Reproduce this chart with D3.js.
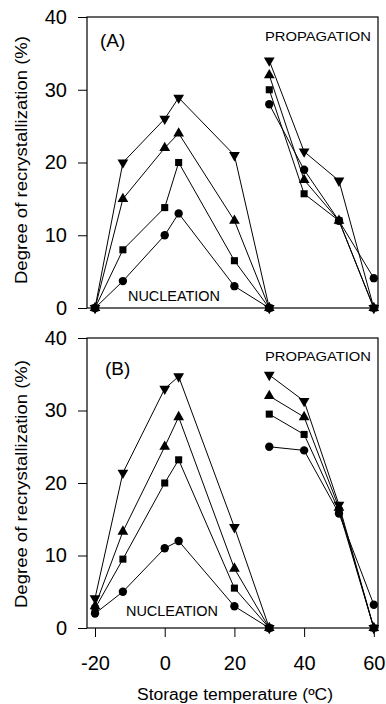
<!DOCTYPE html>
<html>
<head>
<meta charset="utf-8">
<script src="https://cdn.jsdelivr.net/npm/d3@7"></script>
<style>
  body { margin: 0; background: #fff; }
  text { font-family: "Liberation Sans", Arial, sans-serif; fill: #000; }
</style>
</head>
<body>
<script>
// storage temperatures (x values)
const tempNucleation = [-20, -12, 0, 4, 20, 30];
const tempPropagation = [30, 40, 50, 60];
const xTicks = [-20, 0, 20, 40, 60];
const yTicks = [0, 10, 20, 30, 40];
const markerShapes = ["circle", "square", "triangleUp", "triangleDown"];

// panel A - nucleation branch
const nucA_circle = [0, 3.7, 10, 13, 3, 0];
const nucA_square = [0, 8, 13.8, 20, 6.5, 0];
const nucA_up = [0, 15, 22, 24, 12, 0];
const nucA_down = [0, 20, 26, 28.9, 21, 0];
// panel A - propagation branch
const propA_circle = [28, 19, 12, 4.1];
const propA_square = [30, 15.7, 12, 0];
const propA_up = [32, 17.6, 12, 0];
const propA_down = [34, 21.5, 17.5, 0];

// panel B - nucleation branch
const nucB_circle = [2, 5, 11, 12, 3, 0];
const nucB_square = [2.7, 9.5, 20, 23.2, 5.5, 0];
const nucB_up = [3, 13.3, 25, 29.1, 8.2, 0];
const nucB_down = [4.1, 21.4, 33, 34.7, 13.9, 0];
// panel B - propagation branch
const propB_circle = [25, 24.5, 15.8, 3.2];
const propB_square = [29.5, 26.7, 16.2, 0];
const propB_up = [32, 29.1, 16.6, 0];
const propB_down = [34.9, 31.3, 17, 0];

let svg = null;
let x = null;
const left = 87, right = 378;

appendSvg("body");
setupXScale();

drawPanel({
  top: 17, bottom: 308, label: "(A)", labelX: 100, labelY: 47,
  propY: 41, nucX: 128, nucY: 301, titleY: 160, showX: false,
  nuc: [nucA_circle, nucA_square, nucA_up, nucA_down],
  prop: [propA_circle, propA_square, propA_up, propA_down]
});
drawPanel({
  top: 338, bottom: 628, label: "(B)", labelX: 105, labelY: 375,
  propY: 361, nucX: 126, nucY: 616, titleY: 484, showX: true,
  nuc: [nucB_circle, nucB_square, nucB_up, nucB_down],
  prop: [propB_circle, propB_square, propB_up, propB_down]
});

svg.append("text")
  .attr("x", 235)
  .attr("y", 700)
  .attr("text-anchor", "middle")
  .attr("font-size", "16px")
  .attr("textLength", 196)
  .attr("lengthAdjust", "spacingAndGlyphs")
  .text("Storage temperature (ºC)");

function appendSvg(domElement) {
  svg = d3.select(domElement).append("svg")
    .attr("width", 386)
    .attr("height", 704);
}

function setupXScale() {
  // frame runs a little past -20 and 60
  x = d3.scaleLinear()
    .domain([-22.3, 61.2])
    .range([left, right]);
}

function symbolFor(shape) {
  if (shape === "circle") return d3.symbol().type(d3.symbolCircle).size(55)();
  if (shape === "square") return d3.symbol().type(d3.symbolSquare).size(50)();
  return d3.symbol().type(d3.symbolTriangle).size(50)();
}

function drawPanel(p) {
  const y = d3.scaleLinear().domain([0, 40]).range([p.bottom, p.top]);
  const g = svg.append("g");

  // y axis
  const yAxis = g.append("g")
    .attr("transform", `translate(${left},0)`)
    .call(d3.axisLeft(y).tickValues(yTicks).tickSize(9).tickSizeOuter(0).tickPadding(11)
      .tickFormat(d => String(d)));
  yAxis.select(".domain").remove();
  yAxis.selectAll("text").attr("font-size", "20px").attr("font-family", null);

  // x axis ticks (only bottom panel has labels)
  const xAxis = g.append("g")
    .attr("transform", `translate(0,${p.bottom})`)
    .call(d3.axisBottom(x).tickValues(xTicks).tickSize(p.showX ? 9 : 0).tickSizeOuter(0).tickPadding(19)
      .tickFormat(d => String(d)));
  xAxis.select(".domain").remove();
  if (p.showX) {
    xAxis.selectAll("text").attr("font-size", "20px").attr("font-family", null);
  } else {
    xAxis.selectAll("text").remove();
  }

  // frame
  g.append("rect")
    .attr("x", left)
    .attr("y", p.top)
    .attr("width", right - left)
    .attr("height", p.bottom - p.top)
    .attr("fill", "none")
    .attr("stroke", "#000")
    .attr("stroke-width", 1.2);

  const line = d3.line().x(d => x(d[0])).y(d => y(d[1]));

  markerShapes.forEach((shape, i) => {
    const nucPts = tempNucleation.map((t, j) => [t, p.nuc[i][j]]);
    const propPts = tempPropagation.map((t, j) => [t, p.prop[i][j]]);
    [nucPts, propPts].forEach(pts => {
      g.append("path")
        .datum(pts)
        .attr("d", line)
        .attr("fill", "none")
        .attr("stroke", "#000")
        .attr("stroke-width", 1);
      g.selectAll(null)
        .data(pts)
        .enter()
        .append("path")
        .attr("d", symbolFor(shape))
        .attr("transform", d => `translate(${x(d[0])},${y(d[1])})` + (shape === "triangleDown" ? " rotate(180)" : ""))
        .attr("fill", "#000");
    });
  });

  // annotations
  g.append("text")
    .attr("x", p.labelX)
    .attr("y", p.labelY)
    .attr("font-size", "19px")
    .text(p.label);
  g.append("text")
    .attr("x", 265)
    .attr("y", p.propY)
    .attr("font-size", "13px")
    .attr("textLength", 106)
    .attr("lengthAdjust", "spacingAndGlyphs")
    .text("PROPAGATION");
  g.append("text")
    .attr("x", p.nucX)
    .attr("y", p.nucY)
    .attr("font-size", "14px")
    .attr("textLength", 92)
    .attr("lengthAdjust", "spacingAndGlyphs")
    .text("NUCLEATION");

  // y title
  g.append("text")
    .attr("transform", `translate(27,${p.titleY}) rotate(-90)`)
    .attr("text-anchor", "middle")
    .attr("font-size", "16px")
    .attr("textLength", 248)
    .attr("lengthAdjust", "spacingAndGlyphs")
    .text("Degree of recrystallization (%)");
}
</script>
</body>
</html>
